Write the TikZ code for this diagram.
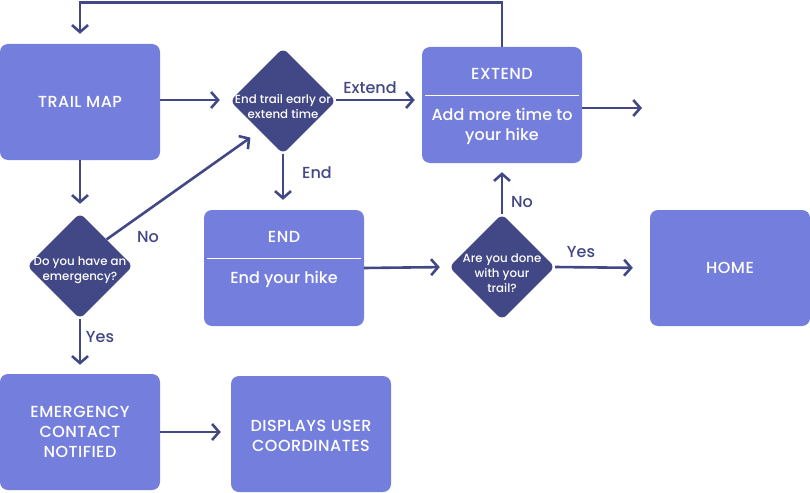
\documentclass[tikz,border=0pt]{standalone}
\usepackage{fontspec}
\setmainfont{Poppins Medium}
\usetikzlibrary{shapes.geometric,arrows.meta}
\definecolor{boxfill}{RGB}{116,126,221}
\definecolor{navy}{RGB}{66,71,133}
\tikzset{
  box/.style={draw=none, fill=boxfill, rounded corners=8pt, minimum width=160pt, minimum height=116pt, inner sep=0pt},
  dia/.style={diamond, fill=navy, rounded corners=6pt, minimum width=106pt, minimum height=106pt, inner sep=0pt},
  btext/.style={text=white, font=\fontsize{16}{20}\selectfont\addfontfeatures{LetterSpace=3}, align=center},
  bbody/.style={text=white, font=\fontsize{16}{20}\selectfont, align=center},
  dtext/.style={text=white, font=\fontsize{11.8}{15}\selectfont, align=center},
  lbl/.style={text=navy, font=\fontsize{16}{18}\selectfont},
  arr/.style={draw=navy, line width=2.6pt, -{Straight Barb[length=7pt,width=16pt]}, shorten >=9pt},
  divider/.style={draw=white, line width=0.8pt}
}
\begin{document}
\begin{tikzpicture}[x=1pt,y=-1pt]
\useasboundingbox (0,0) rectangle (810,492);
% boxes
\node[box] (tm) at (80,102) {};
\node[btext] (tmt) at (tm) {TRAIL MAP};
\node[box] (ext) at (502,105) {};
\draw[divider] (425,95) -- (579,95);
\node[btext] (extt) at (502,74) {EXTEND};
\node[bbody] (extb) at (502,126) {Add more time to\\your hike};
\node[box] (end) at (284,268) {};
\draw[divider] (207,258) -- (361,258);
\node[btext] (endt) at (284,237) {END};
\node[bbody] (endb) at (284,279) {End your hike};
\node[box] (home) at (730,268) {};
\node[btext] (homet) at (home) {HOME};
\node[box] (em) at (80,432) {};
\node[btext] (emt) at (em) {EMERGENCY\\CONTACT\\NOTIFIED};
\node[box] (disp) at (311,434) {};
\node[btext] (dispt) at (311,436) {DISPLAYS USER\\COORDINATES};
% diamonds
\node[dia] (d1) at (283,101) {};
\node[dtext] (d1t) at ([yshift=-6pt]d1.center) {End trail early or\\extend time};
\node[dia] (d2) at (80,266) {};
\node[dtext] (d2t) at ([yshift=-4pt]d2.center) {Do you have an\\emergency?};
\node[dia] (d3) at (502,267) {};
\node[dtext] (d3t) at ([yshift=-6pt]d3.center) {Are you done\\with your\\trail?};
% connectors
\draw[arr, shorten >=10pt] (ext.north) -- ++(0,-44) -| (tm.north);
\draw[arr, shorten >=10pt] (tm.east |- 0,100) -- (d1.west |- 0,100);
\draw[arr, shorten >=7pt] (d1.east |- 0,100) -- (ext.west |- 0,100);
\coordinate (extout) at (642,108);
\draw[arr, shorten >=0pt] (ext.east |- extout) -- (extout);
\draw[arr, shorten >=10pt] (d1.south) -- (end.north -| d1.south);
\draw[arr] (tm.south) -- (d2.north);
\draw[arr, shorten >=0pt] (d2.north east) -- ([xshift=-6pt,yshift=-10pt]d1.south west);
\draw[arr] (d2.south) -- (em.north);
\draw[arr] (end.east) -- (d3.west);
\draw[arr] (d3.north) -- (ext.south);
\draw[arr, shorten >=17pt] (d3.east) -- (home.west);
\draw[arr, shorten >=10pt] (em.east) -- (disp.west |- em.east);
% labels
\node[lbl] (lext) at (370,88) {Extend};
\node[lbl] (lend) at (317,173) {End};
\node[lbl] (lno1) at (148,237) {No};
\node[lbl] (lyes1) at (100,337) {Yes};
\node[lbl] (lno2) at (522,202) {No};
\node[lbl] (lyes2) at (581,252) {Yes};
\end{tikzpicture}
\end{document}
